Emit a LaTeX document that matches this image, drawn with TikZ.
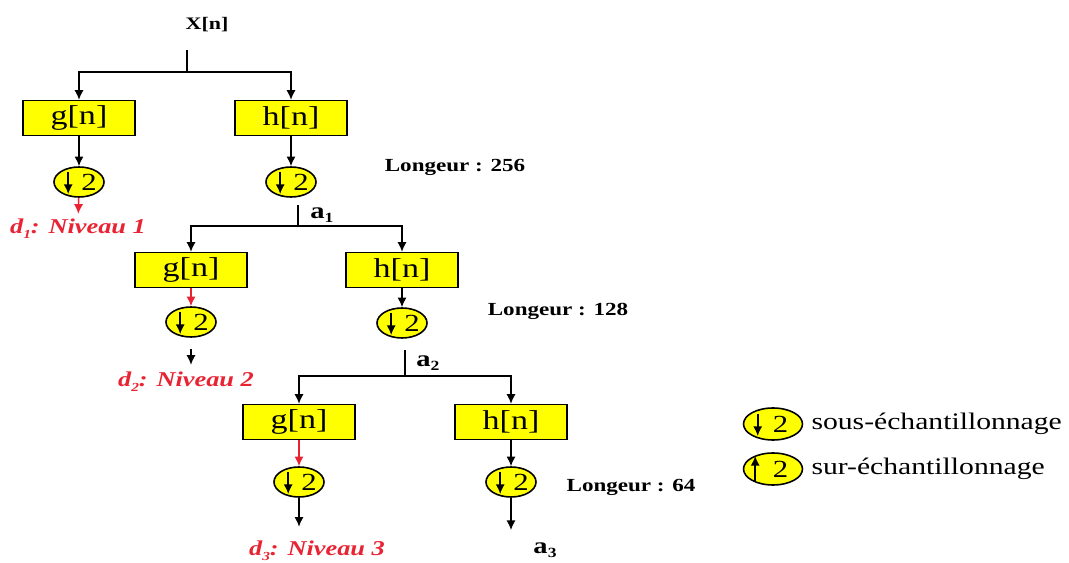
\documentclass[tikz,border=0pt]{standalone}
\usepackage{fontspec}
\setmainfont{Liberation Serif}
\usetikzlibrary{shapes.geometric,arrows.meta}
\definecolor{filtyellow}{RGB}{255,255,0}
\definecolor{detred}{RGB}{232,36,52}
\newcommand{\wide}[1]{\scalebox{1.25}[1]{#1}}
\newcommand{\dnarrow}[1]{\draw[->,line width=0.9pt] ([xshift=0.3cm,yshift=0.2cm]#1.west) -- ([xshift=0.3cm,yshift=-0.24cm]#1.west);}
\newcommand{\uparr}[1]{\draw[->,line width=0.9pt] ([xshift=0.25cm,yshift=-0.26cm]#1.west) -- ([xshift=0.25cm,yshift=0.26cm]#1.west);}
\tikzset{
  >={Latex[length=5.5pt,width=5.2pt]},
  filt/.style={draw,fill=filtyellow,minimum width=2.24cm,minimum height=0.7cm,inner sep=0pt,font=\fontsize{15.5}{16}\selectfont},
  dec/.style={draw,shape=ellipse,fill=filtyellow,line width=0.9pt,minimum width=1cm,minimum height=0.6cm,inner sep=0pt,font=\fontsize{14}{14}\selectfont},
  lenlabel/.style={font=\bfseries\fontsize{10.5}{12}\selectfont},
  lvllabel/.style={text=detred,inner sep=1pt,font=\bfseries\itshape\fontsize{12}{14}\selectfont},
  siglabel/.style={inner sep=1pt,font=\bfseries\fontsize{13}{14}\selectfont},
  keylabel/.style={anchor=west,font=\fontsize{13.5}{16}\selectfont}
}
\begin{document}
\begin{tikzpicture}[x=0.02cm,y=-0.02cm,line width=0.8pt]
  \useasboundingbox (0,0) rectangle (1069,563);
  \node[font=\bfseries\fontsize{10}{12}\selectfont] (xn) at (207,25) {\wide{X[n]}};
  \path (187,50) coordinate (x0) (187,72) coordinate (s1)
  (298,205) coordinate (t1) (298,226) coordinate (s2)
  (405,350) coordinate (t2) (405,376) coordinate (s3);
  \node[filt] (g1) at (79,118) {\wide{g[n]}};
  \node[filt] (h1) at (291,118) {\wide{h[n]}};
  \node[dec] (cg1) at (79,182) {\hspace*{0.4cm}\wide{2}};
  \node[dec] (ch1) at (291,182) {\hspace*{0.4cm}\wide{2}};
  \node[filt] (g2) at (191,270) {\wide{g[n]}};
  \node[filt] (h2) at (402,270) {\wide{h[n]}};
  \node[dec] (cg2) at (191,322) {\hspace*{0.4cm}\wide{2}};
  \node[dec] (ch2) at (402,323) {\hspace*{0.4cm}\wide{2}};
  \node[filt] (g3) at (299,422) {\wide{g[n]}};
  \node[filt] (h3) at (511,422) {\wide{h[n]}};
  \node[dec] (cg3) at (299,482) {\hspace*{0.4cm}\wide{2}};
  \node[dec] (ch3) at (511,482) {\hspace*{0.4cm}\wide{2}};
  \foreach \c in {cg1,ch1,cg2,ch2,cg3,ch3} {\dnarrow{\c}}
  \node[lvllabel] (d1) at (78,229) {\wide{d\raisebox{-0.5ex}{\scriptsize 1}: Niveau 1}};
  \node[lvllabel] (d2) at (186,382) {\wide{d\raisebox{-0.5ex}{\scriptsize 2}: Niveau 2}};
  \node[lvllabel] (d3) at (317,551) {\wide{d\raisebox{-0.5ex}{\scriptsize 3}: Niveau 3}};
  \node[siglabel] (a1) at (322,215) {\wide{a\raisebox{-0.4ex}{\footnotesize 1}}};
  \node[siglabel] (a2) at (428,363) {\wide{a\raisebox{-0.4ex}{\footnotesize 2}}};
  \node[siglabel] (a3) at (545,550) {\wide{a\raisebox{-0.4ex}{\footnotesize 3}}};
  \node[lenlabel] (n1) at (455,167) {\wide{Longeur : 256}};
  \node[lenlabel] (n2) at (558,311) {\wide{Longeur : 128}};
  \node[lenlabel] (n3) at (631,487) {\wide{Longeur : 64}};
  \draw (x0) -- (s1);
  \draw[->] (s1) -| (g1);
  \draw[->] (s1) -| (h1);
  \draw[->] (g1) -- (cg1);
  \draw[->] (h1) -- (ch1);
  \draw[->,detred,shorten >=0.06cm] (cg1) -- (d1);
  \draw (t1) -- (s2);
  \draw[->] (s2) -| (g2);
  \draw[->] (s2) -| (h2);
  \draw[->,detred] (g2) -- (cg2);
  \draw[->] (h2) -- (ch2);
  \draw[->,shorten <=0.22cm,shorten >=0.1cm] (cg2) -- (cg2 |- d2.north);
  \draw (t2) -- (s3);
  \draw[->] (s3) -| (g3);
  \draw[->] (s3) -| (h3);
  \draw[->,detred] (g3) -- (cg3);
  \draw[->] (h3) -- (ch3);
  \draw[->,shorten >=0.24cm] (cg3) -- (cg3 |- d3.north);
  \draw[->,shorten >=0.2cm] (ch3) -- (ch3 |- a3.north);
  \node[dec,minimum width=1.18cm,minimum height=0.64cm] (kd) at (773,424) {\hspace*{0.3cm}\wide{2}};
  \node[dec,minimum width=1.18cm,minimum height=0.64cm] (ku) at (773,469) {\hspace*{0.3cm}\wide{2}};
  \dnarrow{kd}
  \uparr{ku}
  \node[keylabel] (kdt) at (805,424) {\wide{sous-échantillonnage}};
  \node[keylabel] (kut) at (805,469) {\wide{sur-échantillonnage}};
\end{tikzpicture}
\end{document}
